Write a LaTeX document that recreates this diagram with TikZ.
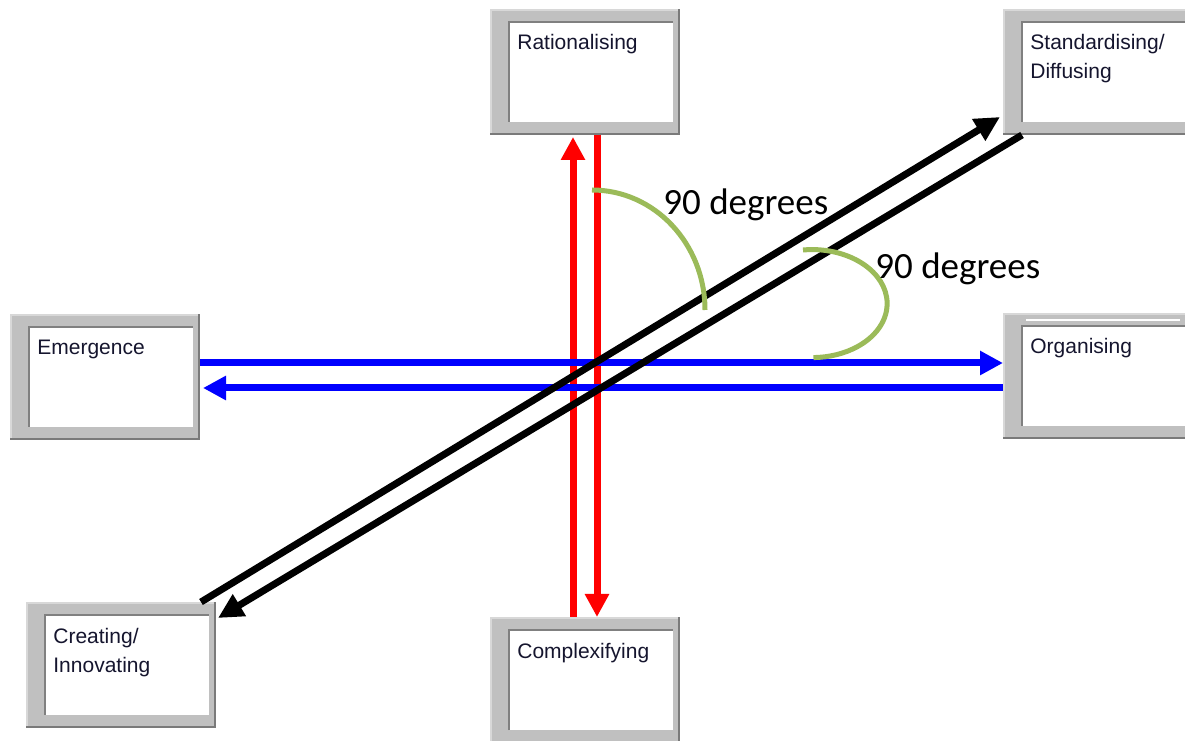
\documentclass[tikz,border=0pt]{standalone}
\usepackage{fontspec}
\setmainfont{Liberation Sans}
\newfontfamily\degfont{Carlito}
\usepackage{tikz}
\usetikzlibrary{arrows.meta,positioning,calc}
\definecolor{frame}{HTML}{C0C0C0}
\definecolor{frameedge}{HTML}{7A7A7A}
\definecolor{frameshade}{HTML}{808080}
\definecolor{framelight}{HTML}{D8D8D8}
\definecolor{labelink}{HTML}{15152E}
\definecolor{loopred}{HTML}{FF0000}
\definecolor{loopblue}{HTML}{0000FF}
\definecolor{anglegreen}{HTML}{9BBB59}
\tikzset{
  panel/.style={rectangle,fill=frame,anchor=north west,inner sep=0pt,outer sep=0pt,
    minimum width=95pt,minimum height=63pt,
    path picture={
      \fill[white] ([shift={(9pt,6.5pt)}]path picture bounding box.south west)
        rectangle ([shift={(-3.5pt,-6pt)}]path picture bounding box.north east);
      \draw[frameshade,line width=1pt] ([shift={(9.5pt,6.5pt)}]path picture bounding box.south west)
        |- ([shift={(-3.5pt,-6.5pt)}]path picture bounding box.north east);
      \draw[framelight,line width=1pt] ([shift={(0.5pt,0pt)}]path picture bounding box.south west)
        |- ([shift={(0pt,-0.5pt)}]path picture bounding box.north east);
      \draw[frameedge,line width=1.2pt] ([shift={(0pt,0.6pt)}]path picture bounding box.south west)
        -| ([shift={(-0.6pt,0pt)}]path picture bounding box.north east);
    }},
  paneltext/.style={anchor=base west,inner sep=0pt,text width=80pt,align=left,
    font=\fontsize{10.5}{14.5}\selectfont,text=labelink},
  redarr/.style={-{Triangle[length=11.5pt,width=11.5pt]},line width=3.5pt,color=loopred},
  bluearr/.style={-{Triangle[length=11.5pt,width=11.5pt]},line width=3.5pt,color=loopblue},
  blackarr/.style={-{Triangle[length=12.5pt,width=12pt]},line width=3.5pt,color=black},
  degarc/.style={line width=2.5pt,color=anglegreen},
  deglabel/.style={anchor=base west,inner sep=0pt,font=\degfont\fontsize{18.5}{22}\selectfont},
}

\begin{document}
\begin{tikzpicture}[x=0.5pt,y=0.5pt]
  \path[use as bounding box,clip] (0,0) rectangle (1185,740);
  \node[panel] (rat) at (490,731) {};
  \node[panel] (std) at (1003,731) {};
  \node[panel] (emg) at (10,426) {};
  \node[panel] (org) at (1003,427) {};
  \node[panel] (crt) at (26,138) {};
  \node[panel] (cpx) at (490,123) {};
  \draw[white,line width=1pt] ([shift={(11.5pt,-3.5pt)}]org.north west) -- ++(77pt,0pt);
  \node[paneltext] (ratT) at ([shift={(13.5pt,-20.5pt)}]rat.north west) {Rationalising};
  \node[paneltext] (stdT) at ([shift={(13.5pt,-20.5pt)}]std.north west) {Standardising/\\Diffusing};
  \node[paneltext] (emgT) at ([shift={(13.5pt,-20.5pt)}]emg.north west) {Emergence};
  \node[paneltext] (orgT) at ([shift={(13.5pt,-20.5pt)}]org.north west) {Organising};
  \node[paneltext] (crtT) at ([shift={(13.5pt,-20.5pt)}]crt.north west) {Creating/\\Innovating};
  \node[paneltext] (cpxT) at ([shift={(13.5pt,-20.5pt)}]cpx.north west) {Complexifying};
  \draw[redarr] ([xshift=-6pt]cpx.north) -- ([shift={(-6pt,-1pt)}]rat.south);
  \draw[redarr] ([xshift=6pt]rat.south) -- ([xshift=6pt]cpx.north);
  \draw[bluearr] (emg.east |- 0,377) -- (org.west |- 0,377);
  \draw[bluearr] (org.west |- 0,352) -- ([xshift=1.5pt]emg.east |- 0,352);
  \draw[blackarr] ([xshift=-7.5pt]crt.north east) -- ([shift={(-1.5pt,9pt)}]std.south west);
  \draw[blackarr] ([xshift=9.5pt]std.south west) -- ([shift={(1pt,-8pt)}]crt.north east);
  \draw[degarc] (592,550) arc[start angle=90,end angle=0,x radius=113,y radius=120];
  \draw[degarc] (803,490) arc[start angle=97,end angle=-89,x radius=75,y radius=54];
  \node[deglabel] (deg1) at (663,525) {90 degrees};
  \node[deglabel] (deg2) at (875,461) {90 degrees};
\end{tikzpicture}
\end{document}
